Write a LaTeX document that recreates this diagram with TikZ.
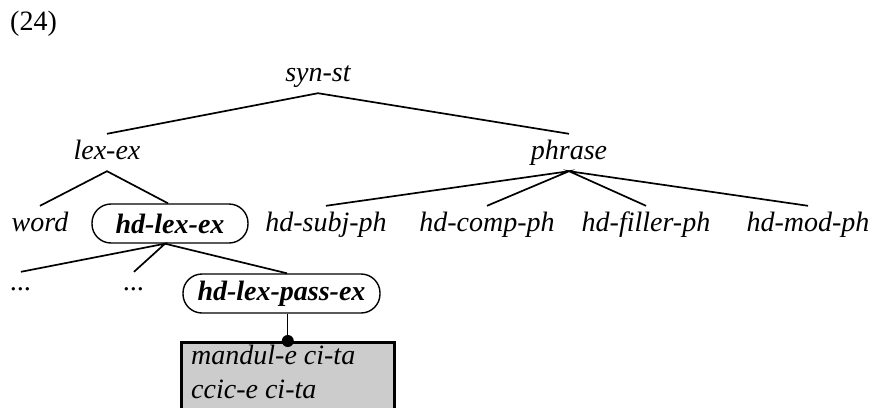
\documentclass[tikz,border=0pt]{standalone}
\usepackage{fontspec}
\setmainfont{Liberation Serif}
\begin{document}
\begin{tikzpicture}[x=1pt,y=-1pt,
  every node/.style={font=\fontsize{28}{34}\selectfont},
  lbl/.style={font=\fontsize{28}{34}\selectfont\itshape, anchor=base, text height=21pt, text depth=8pt, inner sep=4pt},
  dots/.style={font=\fontsize{28}{34}\selectfont\itshape, anchor=base, text height=14pt, text depth=0pt, inner sep=4pt},
  oval/.style={draw, line width=1.4pt, rounded corners=19pt, inner sep=0pt, minimum height=39pt,
     font=\fontsize{28}{34}\selectfont\bfseries\itshape, text height=19pt, text depth=0pt},
  branch/.style={line width=1.7pt},
  boxtext/.style={font=\fontsize{28}{34}\selectfont\itshape, anchor=base west, inner sep=0pt}
]
\useasboundingbox (0,0) rectangle (878,407);
\node[anchor=base west, inner sep=0pt] (num) at (10,30) {(24)};
% tree nodes
\node[lbl] (synst) at (318,81) {syn-st};
\node[lbl] (lexex) at (107,159) {lex-ex};
\node[lbl] (phrase) at (569,159) {phrase};
\node[lbl] (word) at (40,231) {word};
\node[oval, minimum width=156pt] (hdlex) at (170,223.5) {hd-lex-ex};
\node[lbl] (subj) at (326,231) {hd-subj-ph};
\node[lbl] (comp) at (487,231) {hd-comp-ph};
\node[lbl] (filler) at (646,231) {hd-filler-ph};
\node[lbl] (mod) at (808,231) {hd-mod-ph};
\node[dots] (d1) at (21,290) {...};
\node[dots] (d2) at (134,290) {...};
\node[oval, minimum width=197pt, text depth=6pt] (hlp) at (281.5,293.5) {hd-lex-pass-ex};
% shaded box
\node[draw, line width=2.6pt, fill=black!20, anchor=north west, minimum width=213pt, minimum height=110pt, inner sep=0pt] (box) at (180,341) {};
\node[boxtext] (t1) at (191,364) {mandul-e ci-ta};
\node[boxtext] (t2) at (191,398) {ccic-e ci-ta};
% branches
\draw[branch] (lexex.north) -- (synst.south) -- (phrase.north);
\draw[branch] (word.north) -- (lexex.south) -- ([xshift=-2pt]hdlex.north);
\draw[branch] (subj.north) -- (phrase.south) -- (comp.north);
\draw[branch] (filler.north) -- (phrase.south) -- (mod.north);
\draw[branch] (d1.north) -- ([xshift=-5pt]hdlex.south) -- (d2.north);
\draw[branch] ([xshift=-5pt]hdlex.south) -- ([xshift=5.5pt]hlp.north);
\draw[line width=1.1pt] (box.north) -- (box.north |- hlp.south);
\fill (box.north) circle (6pt);
\end{tikzpicture}
\end{document}
